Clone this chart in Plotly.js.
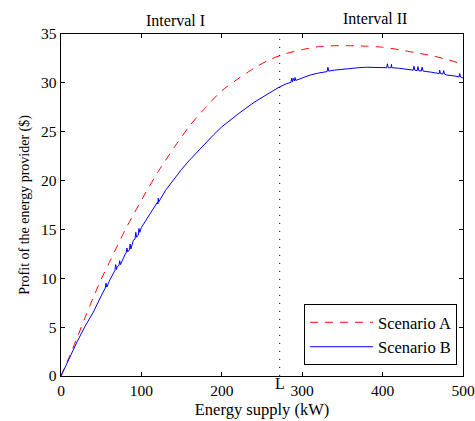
<!DOCTYPE html>
<html>
<head>
<meta charset="utf-8">
<script src="https://cdn.plot.ly/plotly-3.0.1.min.js"></script>
<style>html,body{margin:0;padding:0;background:#fff;}#chart{width:475px;height:421px;}</style>
</head>
<body>
<div id="chart"></div>
<script>
// Scenario A (red dashed)
const aX = [0,10,20,30,40,50,60,70,80,90,100,120,140,160,180,200,220,240,260,280,300,320,340,360,380,400,420,440,460,480,500];
const aY = [0,1.9,3.9,6.0,8.0,9.9,11.6,13.3,15.0,16.5,18.0,20.8,23.3,25.6,27.5,29.2,30.4,31.5,32.4,33.0,33.4,33.7,33.8,33.8,33.75,33.65,33.4,33.1,32.8,32.4,31.9];
// Scenario B (blue solid) base values
const bX = [0,10,20,30,40,50,60,70,80,90,100,110,120,130,140,150,160,170,180,190,200,210,220,230,240,250,260,270,280,290,300,310,320,330,340,350,360,370,380,390,400,410,420,430,440,450,460,470,480,490,500];
const bY = [0,1.8,3.5,5.1,6.5,8.2,9.7,11.2,12.5,13.9,15.2,16.5,17.8,19.0,20.1,21.15,22.1,23.0,23.9,24.7,25.5,26.2,26.8,27.4,28.0,28.5,29.0,29.5,29.9,30.2,30.5,30.8,31.0,31.15,31.3,31.4,31.5,31.55,31.6,31.6,31.6,31.55,31.5,31.4,31.3,31.2,31.1,30.95,30.8,30.7,30.5];
// Scenario B small spikes / jitter
const sX = [55,56,57,67,68,69,72,73,74,81,82,83,85,86,87,92,93,94,96,97,98,120.5,121,121.5,286,287,288,289,290.5,291,292,331,332,333,405,406,407,410.5,411,411.5,438,439,440,443,444,445,448,449,450.5,470.5,471,472,475,476,477,495,496,497];
const sY = [9.0,9.5,9.1,10.8,11.4,10.9,11.3,11.8,11.4,12.6,13.1,12.7,12.9,13.5,13.0,14.0,14.7,14.2,14.4,15.1,14.7,17.6,18.2,17.8,30.05,30.5,30.1,30.45,30.2,30.55,30.25,31.15,31.6,31.2,31.55,31.95,31.55,31.55,31.9,31.55,31.3,31.7,31.3,31.25,31.65,31.25,31.2,31.6,31.2,30.95,31.3,30.95,30.9,31.25,30.9,30.6,30.95,30.6];
const xTicks = [0,100,200,300,400,500];
const yTicks = [0,5,10,15,20,25,30,35];
const lineL = 272;
const intervalLabels = ['Interval I','Interval II'];
const intervalX = [142,390];

const pts = bX.map((x,i)=>[x,bY[i]]).concat(sX.map((x,i)=>[x,sY[i]])).sort((p,q)=>p[0]-q[0]);

const fam = 'Liberation Serif, Times New Roman, serif';
const tickFont = {family:fam, size:15.5, color:'#000'};
const xTitleFont = {family:fam, size:16.5, color:'#000'};
const yTitleFont = {family:fam, size:14, color:'#000'};
const labFont = {family:fam, size:16, color:'#000'};
const legFont = {family:fam, size:16.5, color:'#000'};

const traces = [
  {x:aX, y:aY, mode:'lines', name:'Scenario A', line:{color:'#ff0000', width:1, dash:'8px,7px', shape:'spline', smoothing:0.6}},
  {x:pts.map(p=>p[0]), y:pts.map(p=>p[1]), mode:'lines', name:'Scenario B', line:{color:'#0000ff', width:1}}
];

const axisCommon = {showgrid:false, zeroline:false, showline:true, linecolor:'#000', linewidth:1.3, mirror:'ticks', ticks:'inside', ticklen:4, tickcolor:'#000', tickfont:tickFont};

const layout = {
  width:475, height:421,
  margin:{l:61, r:12, t:34, b:45},
  paper_bgcolor:'#fff', plot_bgcolor:'#fff',
  font:tickFont,
  showlegend:true,
  legend:{x:0.985, y:0.032, xanchor:'right', yanchor:'bottom', bordercolor:'#000', borderwidth:1, bgcolor:'#fff', font:legFont, itemwidth:63, tracegroupgap:0},
  xaxis:Object.assign({}, axisCommon, {range:[0,500], tickvals:xTicks, title:{text:'Energy supply (kW)', font:xTitleFont, standoff:5}}),
  yaxis:Object.assign({}, axisCommon, {range:[0,35], tickvals:yTicks, title:{text:'Profit of the energy provider ($)', font:yTitleFont, standoff:8}}),
  shapes:[{type:'line', xref:'x', yref:'y', x0:lineL, x1:lineL, y0:0, y1:35, line:{color:'#000', width:1, dash:'1px,7px'}}],
  annotations:[
    {text:intervalLabels[0], x:intervalX[0], xref:'x', y:1, yref:'paper', yanchor:'bottom', yshift:3, showarrow:false, font:labFont},
    {text:intervalLabels[1], x:intervalX[1], xref:'x', y:1, yref:'paper', yanchor:'bottom', yshift:5, showarrow:false, font:labFont},
    {text:'L', x:lineL, xref:'x', y:0, yref:'paper', yanchor:'top', xanchor:'center', xshift:0, yshift:3, showarrow:false, font:labFont}
  ]
};

Plotly.newPlot('chart', traces, layout, {displayModeBar:false, staticPlot:true});
</script>
</body>
</html>
